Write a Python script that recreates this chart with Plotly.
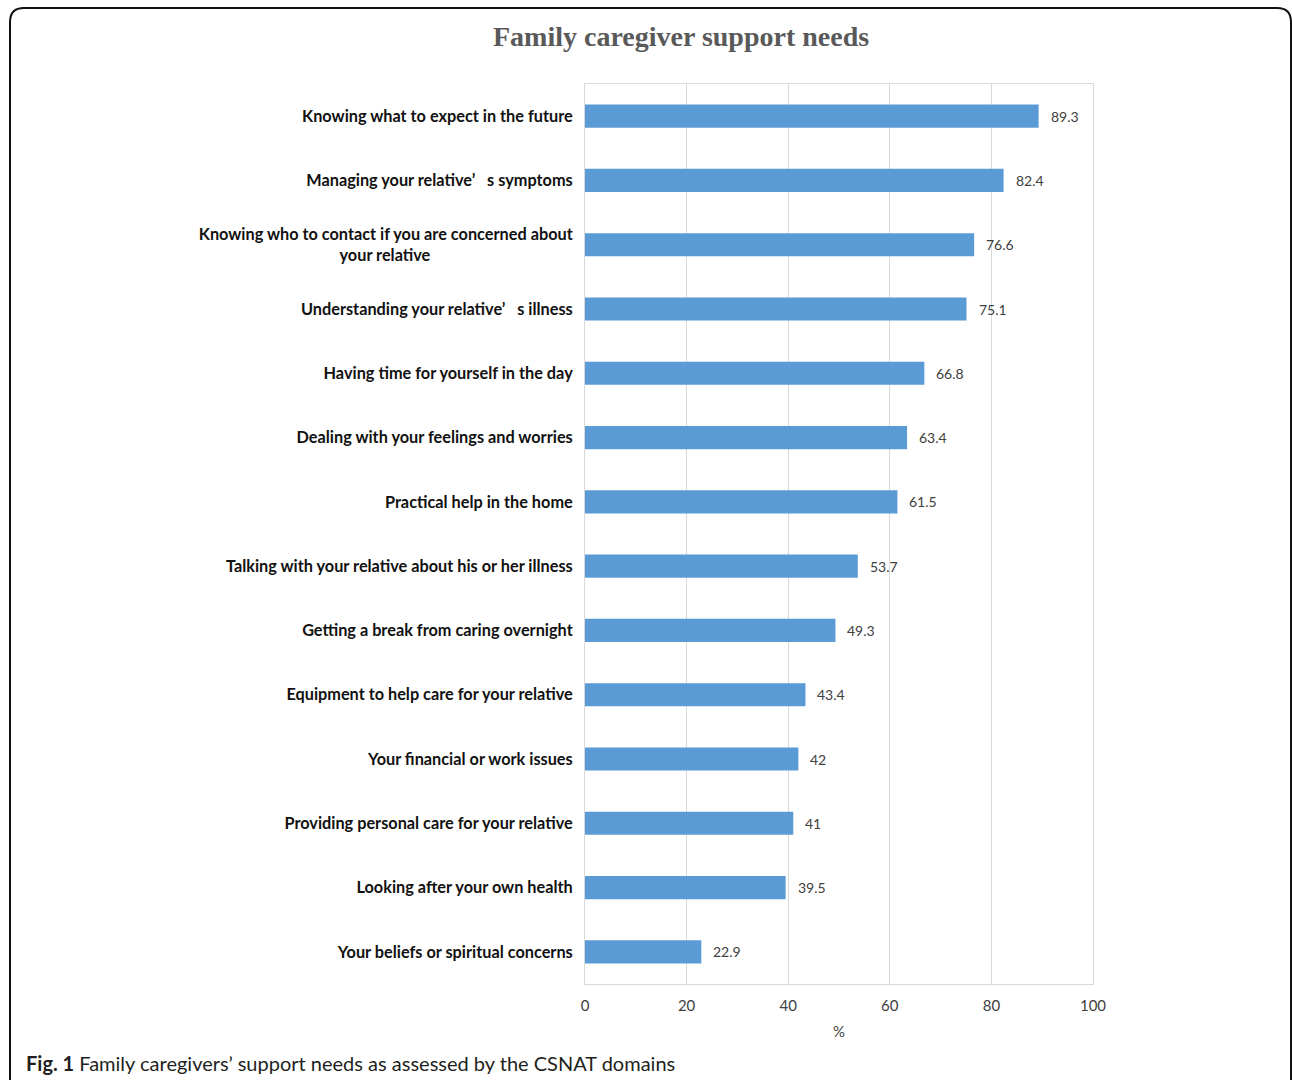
import plotly.graph_objects as go

categories = [
    "Knowing what to expect in the future",
    "Managing your relative\u2019\u00a0\u00a0\u00a0s symptoms",
    "Knowing who to contact if you are concerned about<br>your relative" + "\u00a0" * 36,
    "Understanding your relative\u2019\u00a0\u00a0\u00a0s illness",
    "Having time for yourself in the day",
    "Dealing with your feelings and worries",
    "Practical help in the home",
    "Talking with your relative about his or her illness",
    "Getting a break from caring overnight",
    "Equipment to help care for your relative",
    "Your financial or work issues",
    "Providing personal care for your relative",
    "Looking after your own health",
    "Your beliefs or spiritual concerns",
]
values = [89.3, 82.4, 76.6, 75.1, 66.8, 63.4, 61.5, 53.7, 49.3, 43.4, 42, 41, 39.5, 22.9]
value_labels = ["89.3", "82.4", "76.6", "75.1", "66.8", "63.4", "61.5", "53.7", "49.3", "43.4", "42", "41", "39.5", "22.9"]
x_ticks = [0, 20, 40, 60, 80, 100]

W, H = 1292, 1080
L, R, T, B = 585, 1093, 84, 984

def px(xpix):
    return (xpix - L) / (R - L)

def py(ypix):
    return (B - ypix) / (B - T)

fig = go.Figure()
fig.add_trace(go.Bar(
    x=values, y=categories, orientation="h",
    marker=dict(color="#5B9BD5", line=dict(width=0)),
    width=0.36, hoverinfo="skip",
))

for c, v, t in zip(categories, values, value_labels):
    fig.add_annotation(x=v, y=c, text=t, showarrow=False, xanchor="left",
                       xshift=10, font=dict(family="Lato", size=14, color="#404040"))

# title
fig.add_annotation(xref="paper", yref="paper", x=px(681), y=py(36), text="<b>Family caregiver support needs</b>",
                   showarrow=False, xanchor="center", yanchor="middle",
                   font=dict(family="Liberation Serif", size=28, color="#595959"))
# axis title
fig.add_annotation(xref="paper", yref="paper", x=px(839), y=py(1031), text="%",
                   showarrow=False, xanchor="center", yanchor="middle",
                   font=dict(family="Lato", size=15, color="#404040"))
# caption
fig.add_annotation(xref="paper", yref="paper", x=px(24), y=py(1063),
                   text="<b>Fig. 1</b> Family caregivers\u2019 support needs as assessed by the CSNAT domains",
                   showarrow=False, xanchor="left", yanchor="middle",
                   font=dict(family="Lato", size=20, color="#231f20"))

# rounded frame
x0, y0, x1, y1, r = 10, 8, 1291, 1100, 14
path = (f"M {px(x0)} {py(y1)} L {px(x0)} {py(y0 + r)} "
        f"Q {px(x0)} {py(y0)} {px(x0 + r)} {py(y0)} "
        f"L {px(x1 - r)} {py(y0)} Q {px(x1)} {py(y0)} {px(x1)} {py(y0 + r)} "
        f"L {px(x1)} {py(y1)}")
fig.add_shape(type="path", xref="paper", yref="paper", path=path,
              line=dict(color="#111111", width=2))

fig.update_layout(
    width=W, height=H,
    margin=dict(l=L, r=W - R, t=T, b=H - B),
    plot_bgcolor="white", paper_bgcolor="white",
    showlegend=False,
    xaxis=dict(range=[0, 100], tickvals=x_ticks, ticks="", showgrid=True,
               gridcolor="#D9D9D9", gridwidth=1, zeroline=False,
               showline=True, linecolor="#D9D9D9", mirror=True,
               tickfont=dict(family="Lato", size=15, color="#404040"),
               ticklabelstandoff=8, fixedrange=True),
    yaxis=dict(autorange="reversed", ticks="", showgrid=False, zeroline=False,
               showline=True, linecolor="#D9D9D9", mirror=True,
               tickfont=dict(family="Lato", size=16.3, color="#111111", weight="bold"),
               ticklabelstandoff=8, fixedrange=True),
)

fig.write_html("out.html")
